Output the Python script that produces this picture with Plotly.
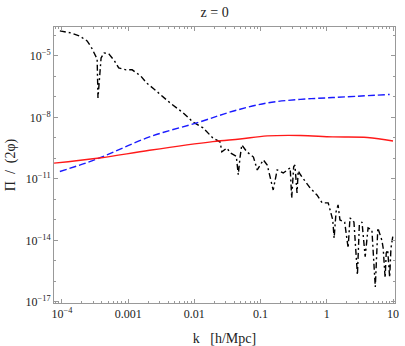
import plotly.graph_objects as go

# k values [h/Mpc] and Pi/(2 phi) values
k_red = [7.6e-5, 3.7e-4, 2.1e-3, 1.9e-2, 4.9e-2, 0.126, 0.40, 1.23, 4.1, 10.0]
y_red = [5.9e-11, 1.05e-10, 2.5e-10, 6.6e-10, 8.9e-10, 1.26e-9, 1.32e-9, 1.12e-9, 1.05e-9, 7.1e-10]

k_blue = [9.3e-5, 3.4e-4, 2.1e-3, 1.2e-2, 3.8e-2, 0.126, 0.40, 1.23, 8.9]
y_blue = [2.3e-11, 9.5e-11, 1.12e-9, 6.0e-9, 2.0e-8, 5.1e-8, 7.6e-8, 9.3e-8, 1.32e-7]

k_black = [9.3e-5, 1.38e-4, 1.82e-4, 2.4e-4, 2.8e-4, 3.2e-4, 3.4e-4, 3.5e-4, 3.9e-4,
           4.3e-4, 5.1e-4, 6.2e-4, 7.2e-4, 9.3e-4, 1.15e-3, 1.55e-3, 1.9e-3, 2.45e-3,
           3.2e-3, 4.3e-3, 6.8e-3, 9.5e-3, 1.35e-2, 1.9e-2, 2.45e-2, 2.6e-2, 3.1e-2,
           3.5e-2, 4.3e-2, 4.6e-2, 4.9e-2, 5.2e-2, 6.2e-2, 7.8e-2, 8.9e-2, 0.11, 0.126,
           0.155, 0.178, 0.22, 0.28, 0.295, 0.316, 0.33, 0.355, 0.37, 0.40, 0.56, 0.71,
           0.85, 1.05, 1.23, 1.29, 1.38, 1.48, 1.58, 1.86, 2.1, 2.24, 2.57, 2.9, 3.1,
           3.4, 3.8, 4.2, 4.8, 5.4, 5.9, 6.8, 7.1, 7.6, 7.9, 8.3, 8.9, 9.3, 10.0]
y_black = [1.66e-4, 1.32e-4, 9.5e-5, 5.4e-5, 2.5e-5, 1.0e-5, 7.1e-6, 8.9e-8, 7.9e-6,
           1.4e-5, 1.26e-5, 5.8e-6, 2.6e-6, 2.1e-6, 2.1e-6, 1.05e-6, 4.8e-7, 2.45e-7,
           1.12e-7, 5.1e-8, 1.66e-8, 6.0e-9, 3.1e-9, 1.0e-9, 6.3e-10, 2.1e-10, 3.2e-10,
           1.86e-10, 1.26e-10, 1.6e-11, 1.17e-10, 4.6e-10, 2.1e-10, 1.17e-10, 2.75e-11,
           8.5e-11, 4.8e-11, 2.9e-12, 2.75e-11, 1.95e-11, 3.5e-11, 1.17e-12, 3.9e-11,
           4.8e-11, 2.1e-12, 2.5e-11, 1.6e-11, 3.6e-12, 1.66e-12, 6.8e-13, 6.8e-13,
           1.0e-13, 1.3e-14, 2.5e-13, 5.4e-13, 1.0e-13, 7.9e-14, 4.3e-15, 1.26e-13,
           7.9e-14, 2.1e-16, 5.8e-14, 7.9e-14, 1.6e-15, 4.1e-14, 3.2e-14, 5.4e-17,
           4.1e-14, 1.0e-14, 4.3e-15, 1.5e-16, 2.5e-15, 3.5e-15, 1.6e-16, 4.0e-15, 1.86e-14]

x_tickvals = [1e-4, 1e-3, 1e-2, 1e-1, 1, 10]
x_ticktext = ["10<sup>\u22124</sup>", "0.001", "0.01", "0.1", "1", "10"]
y_tickvals = [1e-5, 1e-8, 1e-11, 1e-14, 1e-17]
y_ticktext = ["10<sup>\u22125</sup>", "10<sup>\u22128</sup>", "10<sup>\u221211</sup>",
              "10<sup>\u221214</sup>", "10<sup>\u221217</sup>"]

fig = go.Figure()
fig.add_trace(go.Scatter(x=k_black, y=y_black, mode="lines",
                         line=dict(color="black", width=1.4, dash="6px,3px,2px,3px")))
fig.add_trace(go.Scatter(x=k_blue, y=y_blue, mode="lines", line_shape="spline",
                         line=dict(color="#1a1aff", width=1.4, dash="7px,3px")))
fig.add_trace(go.Scatter(x=k_red, y=y_red, mode="lines", line_shape="spline",
                         line=dict(color="#ff1a1a", width=1.4)))

axis_style = dict(type="log", showgrid=False, zeroline=False, showline=True,
                  linecolor="#999999", linewidth=1, mirror="ticks", ticks="inside",
                  ticklen=4, tickcolor="#999999", automargin=False,
                  tickfont=dict(family="Liberation Serif", size=12, color="#222222"))

fig.update_xaxes(**axis_style, range=[-4.12, 1.03], tickvals=x_tickvals, ticktext=x_ticktext,
                 minor=dict(ticks="inside", ticklen=2, tickcolor="#999999", dtick="D1"),
                 title=dict(text="k   [h/Mpc]", font=dict(family="Liberation Serif", size=14,
                                                          color="#222222"), standoff=15))
fig.update_yaxes(**axis_style, range=[-17.05, -3.59], tickvals=y_tickvals, ticktext=y_ticktext,
                 minor=dict(ticks="inside", ticklen=2, tickcolor="#999999", dtick=1),
                 title=dict(text="\u03a0  /  (2\u03c6)", font=dict(family="Liberation Serif",
                                                                  size=14, color="#222222"),
                            standoff=6))

fig.update_layout(
    width=405, height=346,
    margin=dict(l=54, r=10, t=27, b=43),
    plot_bgcolor="white", paper_bgcolor="white",
    showlegend=False,
    title=dict(text="z = 0", x=0.53, xanchor="center", y=0.965, yanchor="middle",
               font=dict(family="Liberation Serif", size=14, color="#222222")),
)

# drop the default page margin so the figure sits at the window corner
fig.write_html("out.html", config={"displayModeBar": False},
               post_script="document.body.style.margin='0';")
